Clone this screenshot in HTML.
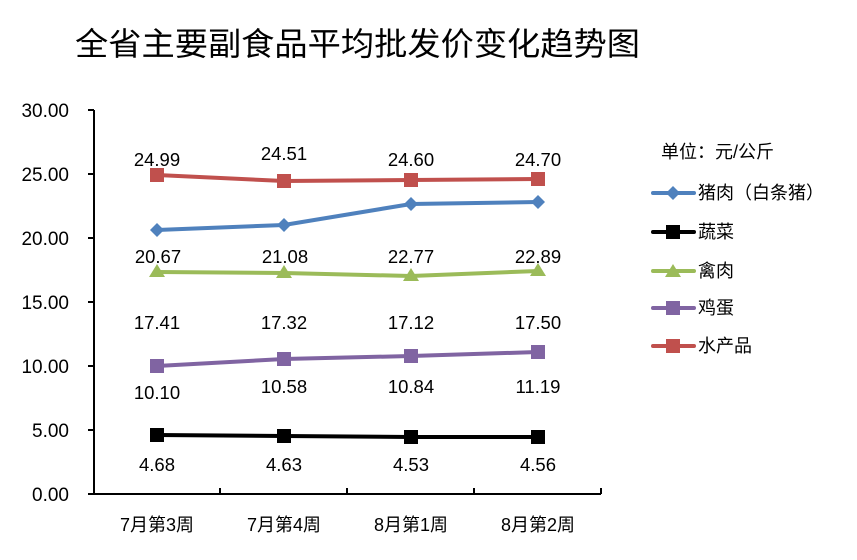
<!DOCTYPE html>
<html><head><meta charset="utf-8"><style>
body{margin:0;background:#fff}
svg text{font-family:"Liberation Sans","Noto Sans CJK SC",sans-serif}
</style></head><body>
<svg width="857" height="555" xmlns="http://www.w3.org/2000/svg">
<rect width="857" height="555" fill="#fff"/>
<text x="75" y="55" font-size="32" fill="#000" textLength="565" lengthAdjust="spacingAndGlyphs">全省主要副食品平均批发价变化趋势图</text>
<g stroke="#000" stroke-width="2" fill="none">
<line x1="94" y1="110" x2="94" y2="494"/>
<line x1="93" y1="494" x2="601" y2="494"/>
<line x1="88" y1="110" x2="94" y2="110"/><line x1="88" y1="174" x2="94" y2="174"/><line x1="88" y1="238" x2="94" y2="238"/><line x1="88" y1="302" x2="94" y2="302"/><line x1="88" y1="366" x2="94" y2="366"/><line x1="88" y1="430" x2="94" y2="430"/><line x1="88" y1="494" x2="94" y2="494"/>
<line x1="220" y1="488" x2="220" y2="494"/><line x1="347" y1="488" x2="347" y2="494"/><line x1="474" y1="488" x2="474" y2="494"/><line x1="601" y1="488" x2="601" y2="494"/>
</g>
<g font-size="19" text-anchor="end" fill="#000">
<text x="69" y="117">30.00</text><text x="69" y="181">25.00</text><text x="69" y="245">20.00</text><text x="69" y="309">15.00</text><text x="69" y="373">10.00</text><text x="69" y="437">5.00</text><text x="69" y="501">0.00</text>
</g>
<g font-size="18" text-anchor="middle" fill="#000">
<text x="157" y="531">7月第3周</text><text x="284" y="531">7月第4周</text><text x="411" y="531">8月第1周</text><text x="538" y="531">8月第2周</text>
</g>
<polyline points="157,175 284,181 411,180 538,179" stroke="#c0504d" stroke-width="4" fill="none"/>
<g fill="#c0504d"><rect x="150" y="168" width="14" height="14"/><rect x="277" y="174" width="14" height="14"/><rect x="404" y="173" width="14" height="14"/><rect x="531" y="172" width="14" height="14"/></g>
<polyline points="157,230 284,225 411,204 538,202" stroke="#4f81bd" stroke-width="4" fill="none"/>
<g fill="#4f81bd"><path d="M157,223l7,7l-7,7l-7,-7z"/><path d="M284,218l7,7l-7,7l-7,-7z"/><path d="M411,197l7,7l-7,7l-7,-7z"/><path d="M538,195l7,7l-7,7l-7,-7z"/></g>
<polyline points="157,272 284,273 411,276 538,271" stroke="#9bbb59" stroke-width="4" fill="none"/>
<g fill="#9bbb59"><path d="M157,264l8,13h-16z"/><path d="M284,265l8,13h-16z"/><path d="M411,268l8,13h-16z"/><path d="M538,263l8,13h-16z"/></g>
<polyline points="157,366 284,359 411,356 538,352" stroke="#8064a2" stroke-width="4" fill="none"/>
<g fill="#8064a2"><rect x="150" y="359" width="14" height="14"/><rect x="277" y="352" width="14" height="14"/><rect x="404" y="349" width="14" height="14"/><rect x="531" y="345" width="14" height="14"/></g>
<polyline points="157,435 284,436 411,437 538,437" stroke="#000" stroke-width="4" fill="none"/>
<g fill="#000"><rect x="150" y="428" width="14" height="14"/><rect x="277" y="429" width="14" height="14"/><rect x="404" y="430" width="14" height="14"/><rect x="531" y="430" width="14" height="14"/></g>
<g font-size="18.5" text-anchor="middle" fill="#000">
<text x="157" y="166">24.99</text><text x="284" y="160">24.51</text><text x="411" y="166">24.60</text><text x="538" y="166">24.70</text>
<text x="158" y="263">20.67</text><text x="285" y="263">21.08</text><text x="411" y="263">22.77</text><text x="538" y="263">22.89</text>
<text x="157" y="329">17.41</text><text x="284" y="329">17.32</text><text x="411" y="329">17.12</text><text x="538" y="329">17.50</text>
<text x="157" y="399">10.10</text><text x="284" y="393">10.58</text><text x="411" y="393">10.84</text><text x="538" y="393">11.19</text>
<text x="157" y="471">4.68</text><text x="284" y="471">4.63</text><text x="411" y="471">4.53</text><text x="538" y="471">4.56</text>
</g>
<text x="661" y="158" font-size="18">单位：元/公斤</text>
<g font-size="18" fill="#000">
<line x1="653" y1="193" x2="694" y2="193" stroke="#4f81bd" stroke-width="4" stroke-linecap="round"/><path d="M673,186l7,7l-7,7l-7,-7z" fill="#4f81bd"/><text x="698" y="199">猪肉（白条猪）</text>
<line x1="653" y1="232" x2="694" y2="232" stroke="#000" stroke-width="4" stroke-linecap="round"/><rect x="666" y="225" width="14" height="14" fill="#000"/><text x="698" y="238">蔬菜</text>
<line x1="653" y1="271" x2="694" y2="271" stroke="#9bbb59" stroke-width="4" stroke-linecap="round"/><path d="M673,264l8,13h-16z" fill="#9bbb59"/><text x="698" y="277">禽肉</text>
<line x1="653" y1="308" x2="694" y2="308" stroke="#8064a2" stroke-width="4" stroke-linecap="round"/><rect x="666" y="301" width="14" height="14" fill="#8064a2"/><text x="698" y="314">鸡蛋</text>
<line x1="653" y1="346" x2="694" y2="346" stroke="#c0504d" stroke-width="4" stroke-linecap="round"/><rect x="666" y="339" width="14" height="14" fill="#c0504d"/><text x="698" y="352">水产品</text>
</g>
</svg>
</body></html>
